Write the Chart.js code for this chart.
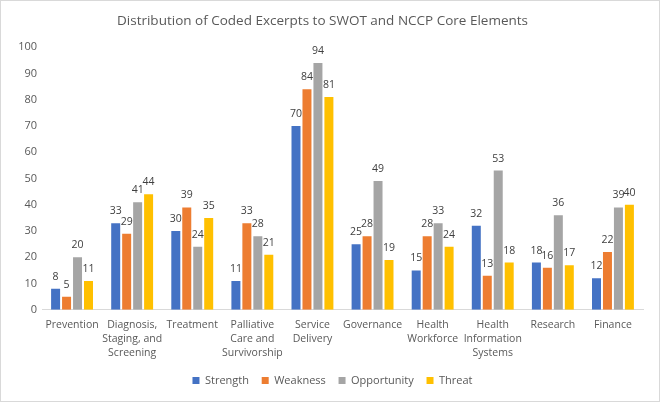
<!DOCTYPE html>
<html><head><meta charset="utf-8">
<script src="https://cdn.jsdelivr.net/npm/chart.js@4/dist/chart.umd.min.js"></script>
<style>html,body{margin:0;padding:0;background:#fff}#wrap{width:660px;height:402px;position:relative}</style>
</head><body><div id="wrap"><canvas id="c" width="660" height="402"></canvas></div>
<script>
const categories = [["Prevention"], ["Diagnosis,","Staging, and","Screening"], ["Treatment"], ["Palliative","Care and","Survivorship"], ["Service","Delivery"], ["Governance"], ["Health","Workforce"], ["Health","Information","Systems"], ["Research"], ["Finance"]];
const strength = [8, 33, 30, 11, 70, 25, 15, 32, 18, 12];
const weakness = [5, 29, 39, 33, 84, 28, 28, 13, 16, 22];
const opportunity = [20, 41, 24, 28, 94, 49, 33, 53, 36, 39];
const threat = [11, 44, 35, 21, 81, 19, 24, 18, 17, 40];
const seriesNames = ["Strength", "Weakness", "Opportunity", "Threat"];
const colors = ["#4472C4", "#ED7D31", "#A5A5A5", "#FFC000"];
const FONT = "'Open Sans', 'Noto Sans', sans-serif";
const TXT = "#595959";

const labelPlugin = {
  id: 'vals',
  afterDatasetsDraw(chart) {
    const ctx = chart.ctx;
    ctx.save();
    ctx.font = "10.5px " + FONT;
    ctx.fillStyle = "#404040";
    ctx.textAlign = "center";
    ctx.textBaseline = "middle";
    chart.data.datasets.forEach((ds, i) => {
      chart.getDatasetMeta(i).data.forEach((el, j) => {
        ctx.fillText(String(ds.data[j]), el.x, el.y - 12);
      });
    });
    ctx.restore();
  }
};
const borderPlugin = {
  id: 'frame',
  afterDraw(chart) {
    const ctx = chart.ctx;
    ctx.save();
    ctx.strokeStyle = "#d9d9d9";
    ctx.lineWidth = 1;
    ctx.strokeRect(0.5, 0.5, chart.width - 1, chart.height - 1);
    ctx.restore();
  }
};
const bgPlugin = {
  id: 'bg',
  beforeDraw(chart) {
    const ctx = chart.ctx;
    ctx.save(); ctx.fillStyle = "#fff"; ctx.fillRect(0, 0, chart.width, chart.height); ctx.restore();
  }
};
const legendShift = {
  id: 'legendShift',
  afterLayout(chart) {
    if (chart.legend) { chart.legend.left += 10; chart.legend.right += 10; }
  }
};

const data = [strength, weakness, opportunity, threat];
new Chart(document.getElementById('c'), {
  type: 'bar',
  data: {
    labels: categories,
    datasets: seriesNames.map((n, i) => ({
      label: n, data: data[i], backgroundColor: colors[i],
      barPercentage: 0.82, categoryPercentage: 0.73
    }))
  },
  options: {
    responsive: false, animation: false,
    layout: { padding: { left: 2, right: 17, top: 0, bottom: 6 } },
    plugins: {
      title: { display: true, text: "Distribution of Coded Excerpts to SWOT and NCCP Core Elements",
        color: TXT, font: { family: FONT, size: 13.5, weight: 'normal', lineHeight: 1.2 }, padding: { top: 13, bottom: 18 } },
      legend: { position: 'bottom',
        labels: { color: TXT, font: { family: FONT, size: 11 }, boxWidth: 7, boxHeight: 7, padding: 7,
          generateLabels(chart) {
            const items = Chart.defaults.plugins.legend.labels.generateLabels(chart);
            items.forEach((it, k) => { if (k < items.length - 1) it.text = it.text + "  "; it.lineWidth = 0; });
            return items;
          } } },
      tooltip: { enabled: false }
    },
    scales: {
      x: {
        grid: { display: false, drawTicks: false, tickLength: 0 }, border: { color: "#d9d9d9" },
        ticks: { color: TXT, font: { family: FONT, size: 10.5, lineHeight: 1.34 }, maxRotation: 0, autoSkip: false, padding: 8 }
      },
      y: {
        min: 0, max: 100,
        grid: { display: false, drawTicks: false, tickLength: 0 }, border: { display: false },
        ticks: { stepSize: 10, color: TXT, font: { family: FONT, size: 11 }, padding: 5 },
        afterFit(s) { s.width = 40; }
      }
    }
  },
  plugins: [bgPlugin, labelPlugin, borderPlugin, legendShift]
});
</script></body></html>
